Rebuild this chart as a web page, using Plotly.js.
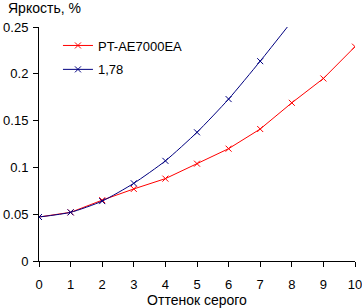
<!DOCTYPE html>
<html>
<head>
<meta charset="utf-8">
<script src="https://cdn.plot.ly/plotly-3.0.1.min.js"></script>
<style>
  html, body { margin: 0; padding: 0; background: #fff; }
  #chart { width: 362px; height: 308px; }
</style>
</head>
<body>
<div id="chart"></div>
<script>
// Gray shade steps along the x axis
const shades = [0, 1, 2, 3, 4, 5, 6, 7, 8, 9, 10];
// Measured brightness of the projector, %
const projectorName = 'PT-AE7000EA';
const projectorValues = [0.047, 0.052, 0.065, 0.077, 0.088, 0.104, 0.120, 0.141, 0.169, 0.195, 0.229];
// Reference gamma curve 1,78
const gammaName = '1,78';
const gammaShades = [0, 1, 2, 3, 4, 5, 6, 7, 8];
const gammaValues = [0.047, 0.052, 0.064, 0.083, 0.107, 0.1375, 0.173, 0.2135, 0.256];
const xTicks = [0, 1, 2, 3, 4, 5, 6, 7, 8, 9, 10];
const yTicks = [0, 0.05, 0.1, 0.15, 0.2, 0.25];
const yTickText = ['0', '0.05', '0.1', '0.15', '0.2', '0.25'];

const font = { family: 'Liberation Sans, Arial, sans-serif', size: 13, color: '#000' };
const titleFont = { family: 'Liberation Sans, Arial, sans-serif', size: 14, color: '#000' };

const traces = [
  {
    x: shades, y: projectorValues, name: projectorName, legendgroup: 'a',
    type: 'scatter', mode: 'lines+markers',
    line: { color: '#ff0000', width: 1 },
    marker: { symbol: 'x-thin', size: 6, line: { color: '#ff0000', width: 1 } }
  },
  {
    x: gammaShades, y: gammaValues, name: gammaName, legendgroup: 'b',
    type: 'scatter', mode: 'lines+markers',
    line: { color: '#000080', width: 1, shape: 'spline', smoothing: 0.6 },
    marker: { symbol: 'x-thin', size: 6, line: { color: '#000080', width: 1 } }
  }
];

const layout = {
  width: 362, height: 308,
  margin: { l: 39, r: 7, t: 27, b: 47 },
  paper_bgcolor: '#fff', plot_bgcolor: '#fff',
  font: font,
  showlegend: true,
  legend: {
    x: 0.06, y: 0.985, xanchor: 'left', yanchor: 'top',
    bgcolor: 'rgba(0,0,0,0)', font: font, traceorder: 'grouped',
    tracegroupgap: 4, itemwidth: 30
  },
  xaxis: {
    range: [0, 10], tickvals: xTicks, ticktext: xTicks.map(String),
    showline: true, linecolor: '#000', linewidth: 1,
    ticks: 'outside', ticklen: 5, tickcolor: '#000', tickwidth: 1,
    showgrid: false, zeroline: false, ticklabelstandoff: 6,
    ticklabeloverflow: 'allow',
    title: { text: 'Оттенок серого', font: titleFont, standoff: 2 }
  },
  yaxis: {
    range: [0, 0.25], tickvals: yTicks, ticktext: yTickText,
    showline: true, linecolor: '#000', linewidth: 1,
    ticks: 'outside', ticklen: 5, tickcolor: '#000', tickwidth: 1,
    showgrid: false, zeroline: false, ticklabelstandoff: 2,
    ticklabeloverflow: 'allow'
  },
  annotations: [{
    text: 'Яркость, %', xref: 'paper', yref: 'paper',
    x: -0.105, y: 1.0, xanchor: 'left', yanchor: 'bottom',
    yshift: 9, showarrow: false, font: titleFont
  }]
};

Plotly.newPlot('chart', traces, layout, { displayModeBar: false, staticPlot: true });
</script>
</body>
</html>
